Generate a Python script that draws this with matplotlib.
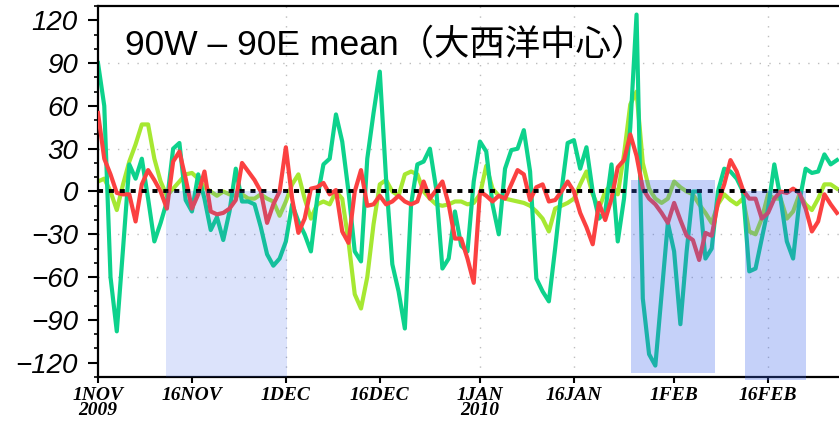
import numpy as np
import matplotlib
matplotlib.use("Agg")
import matplotlib.pyplot as plt
import matplotlib.dates as mdates
from matplotlib.ticker import MultipleLocator

# Daily series, 1 Nov 2009 - 27 Feb 2010
start = np.datetime64("2009-11-01")
dates = start + np.arange(119).astype("timedelta64[D]")

teal_vals = [
    90, 60, -60, -98, -40, 19, 9, 23, -5, -35,
    -22, -7, 30, 34, -6, -14, 12, -5, -27, -18,
    -34, -14, 16, -7, -7, -9, -25, -44, -52, -47,
    -35, -9, -21, -30, -42, -5, 19, 23, 54, 35,
    0, -42, -49, 23, 55, 84, 9, -51, -70, -96,
    -9, 19, 21, 30, 2, -54, -47, -14, -38, -42,
    7, 35, 28, -9, -30, 16, 29, 30, 43, 14,
    -61, -70, -77, -40, 0, 34, 36, 16, 31, 0,
    -19, -14, 19, -35, -5, 45, 124, -75, -114, -122,
    -72, -22, -42, -93, -42, 0, 0, -47, -40, 0,
    16, 14, 9, 0, -56, -54, -33, -12, 19, -5,
    -35, -47, -7, 16, 13, 14, 26, 19, 22,
]

lime_vals = [
    7, 9, 0, -13, 5, 21, 33, 47, 47, 23,
    7, -3, 2, 7, 12, 13, 9, 3, 0, -3,
    0, -2, -3, -2, -5, -5, -2, -5, -7, -17,
    -7, 5, 12, -5, -19, -9, -7, -9, 0, -5,
    -35, -72, -82, -60, -23, 5, 8, 0, -3, 12,
    14, 12, 0, -5, -9, -10, -9, -7, -7, -9,
    -8, -2, 18, 2, -3, -5, -6, -7, -8, -10,
    -14, -19, -28, -12, -10, -8, -5, 5, 14, -2,
    -12, 0, 5, -2, 26, 61, 70, 20, 2, -5,
    -8, -5, 7, 3, 0, -2, -9, -15, -22, -9,
    -2, -6, -9, -5, -28, -30, -19, -2, -5, -5,
    -19, -14, -2, -9, -13, -5, 5, 5, 2,
]

red_vals = [
    55, 23, 12, -1, -2, -2, -21, 5, 15, 8,
    0, -12, 21, 28, 9, -12, -2, 14, -14, -16,
    -15, -12, -6, 20, 14, 8, 0, -22, -9, 0,
    31, -5, -29, -19, 2, 3, 6, -2, 1, -28,
    -36, 0, 15, -10, -9, -3, -9, -7, -3, -7,
    -9, -7, 7, -5, 1, 7, -9, -33, -33, -47,
    -64, 0, -3, -7, -3, -5, 5, 15, 12, -6,
    3, 5, -7, -6, 0, 7, 0, -15, -25, -37,
    -8, -20, -5, 17, 22, 40, 25, 2, -5, -9,
    -15, -22, -8, -20, -31, -34, -48, -29, -31, -8,
    5, 22, 14, 1, -5, -5, -19, -15, -5, 0,
    -1, 2, -1, -12, -28, -21, -2, -9, -15,
]

# Highlighted periods (start, end) in days after 1 Nov 2009
light_periods = [(10.9, 30.2)]
strong_periods = [(85.1, 98.6), (103.3, 113.05)]

tick_dates = ["2009-11-01", "2009-11-16", "2009-12-01", "2009-12-16",
              "2010-01-01", "2010-01-16", "2010-02-01", "2010-02-16"]
tick_labels = ["1NOV\n2009", "16NOV", "1DEC", "16DEC",
               "1JAN\n2010", "16JAN", "1FEB", "16FEB"]
xgrid_dates = ["2009-12-01", "2010-01-01", "2010-01-16", "2010-02-16"]
ygrid_vals = [90, 30, -30, -60]
ytick_vals = list(range(-120, 121, 30))

title = "90W – 90E mean（大西洋中心）"

# ---------------------------------------------------------------- figure
fig = plt.figure(figsize=(8.39, 4.22), dpi=100)
ax = fig.add_axes([98 / 839, 1 - 377 / 422, 741 / 839, 371 / 422])

x0 = mdates.date2num(start)

grid_kw = dict(color="#bdbdbd", lw=1.0, linestyle=(0, (1, 6)), zorder=1)
for gd in xgrid_dates:
    ax.axvline(np.datetime64(gd), **grid_kw)
for gv in ygrid_vals:
    ax.axhline(gv, **grid_kw)

ax.plot(dates, lime_vals, color="#a6e832", lw=3.0, zorder=2.2)
ax.plot(dates, teal_vals, color="#0dd28c", lw=3.0, zorder=2.4)
ax.plot(dates, red_vals, color="#fb4141", lw=3.0, zorder=2.6)

ax.axhline(0, color="black", lw=2.8, linestyle=(0, (1.3, 1.5)),
           dash_capstyle="butt", zorder=3)

for a, b in light_periods:
    ax.fill_between([x0 + a, x0 + b], 0, -130, color="#4169ee",
                    alpha=0.18, lw=0, zorder=4)
for (a, b), (top, bot) in zip(strong_periods, [(8, -127.5), (0, -132)]):
    ax.fill_between([x0 + a, x0 + b], top, bot, color="#4169ee",
                    alpha=0.30, lw=0, zorder=4, clip_on=False)

ax.set_xlim(x0, x0 + 118.33)
ax.set_ylim(-130, 130)

ax.set_xticks([mdates.date2num(np.datetime64(d)) for d in tick_dates])
ax.set_xticklabels(tick_labels, family="Liberation Serif", weight="bold",
                   style="italic", fontsize=14, linespacing=0.85)
ax.tick_params(axis="x", direction="out", length=4.5, width=1.5, pad=2.5)

ax.set_yticks(ytick_vals)
ax.yaxis.set_minor_locator(MultipleLocator(10))
ax.set_yticklabels([f"{v:d}".replace("-", "\u2212") for v in ytick_vals],
                   family="Liberation Sans", style="italic", fontsize=20)
ax.tick_params(axis="y", which="major", direction="out", length=7.5,
               width=1.5, pad=7)
ax.tick_params(axis="y", which="minor", direction="out", length=3,
               width=1.2)

for side in ("left", "top", "bottom"):
    ax.spines[side].set_linewidth(1.6)
ax.spines["right"].set_visible(False)

ax.text((125 - 98) / 741, (377 - 55) / 371, title, transform=ax.transAxes,
        fontsize=25.5, family=["Liberation Sans", "Noto Sans CJK JP"],
        va="baseline", ha="left", zorder=6)

fig.savefig("out.png", dpi=100)
